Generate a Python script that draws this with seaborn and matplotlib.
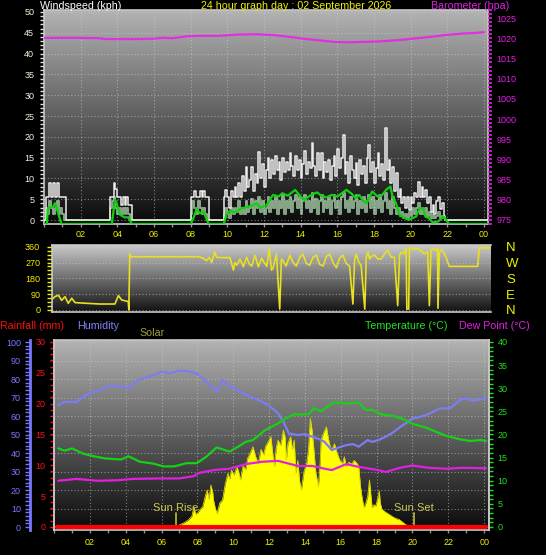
import numpy as np
import matplotlib
matplotlib.use("Agg")
import matplotlib.pyplot as plt
import seaborn as sns
from matplotlib.ticker import MultipleLocator

# ---------------- data ----------------
hour_ticks = [2, 4, 6, 8, 10, 12, 14, 16, 18, 20, 22, 24]
hour_labels = ["02", "04", "06", "08", "10", "12", "14", "16", "18", "20", "22", "00"]

# barometer (hPa)
baro_t = [0.0, 1.0, 2.0, 3.0, 3.4, 4.0, 5.0, 6.0, 6.5, 7.0, 7.8, 8.5, 9.5, 10.5, 11.6,
          12.5, 13.3, 14.3, 15.0, 15.8, 16.5, 17.4, 18.2, 18.9, 19.5, 20.1, 21.0, 21.9,
          22.9, 23.5, 24.0]
baro_v = [1020.1, 1020.1, 1020.1, 1020.0, 1019.8, 1019.8, 1019.8, 1019.9, 1020.1, 1020.0,
          1020.5, 1020.6, 1020.6, 1020.9, 1021.0, 1020.8, 1020.4, 1019.8, 1019.5, 1019.1,
          1019.0, 1019.1, 1019.2, 1019.4, 1019.6, 1019.9, 1020.3, 1020.8, 1021.2, 1021.3,
          1021.5]

# wind gust / speed (kph), 6-minute samples in windy spells
wind_step = 0.1
wind_starts = [0.1, 3.6, 8.0, 9.8]
wind_end = 24.2
gust_a = [5.5, 5.5, 9.0, 5.5, 9.0, 5.5, 9.0, 5.5, 5.5, 5.5, 5.5, 0.0]
gust_b = [5.5, 5.5, 9.0, 7.5, 5.5, 5.5, 3.5, 5.5, 3.5, 5.5, 3.5, 3.5, 0.0]
gust_c = [5.5, 5.5, 7.0, 5.5, 5.5, 7.0, 5.5, 7.0, 5.5, 5.5, 0.0]
gust_d = [5.5, 7.2, 5.5, 3.0, 7.0, 5.5, 8.0, 5.5, 9.0, 5.5,
          10.5, 7.0, 12.8, 8.0, 9.5, 12.8, 7.0, 11.0, 9.0, 16.4,
          10.0, 13.5, 8.0, 12.0, 15.0, 10.0, 14.5, 11.0, 15.5, 12.0,
          14.0, 9.5, 15.0, 11.5, 14.0, 12.0, 16.0, 13.0, 10.5, 15.5,
          12.0, 14.5, 10.0, 13.5, 16.5, 11.0, 14.0, 12.5, 18.5, 13.0,
          10.5, 16.0, 12.0, 16.1, 10.0, 14.0, 11.5, 14.5, 9.5, 13.0,
          15.5, 10.5, 17.0, 12.5, 15.0, 20.4, 11.0, 14.0, 9.0, 15.5,
          12.0, 10.0, 13.7, 8.5, 14.5, 11.0, 13.0, 9.0, 15.0, 18.0,
          11.5, 14.0, 9.0, 12.5, 16.0, 10.5, 13.5, 9.5, 22.0, 12.0,
          14.5, 9.0, 12.8, 7.0, 11.3, 5.5, 7.5, 4.0, 5.5, 3.0,
          5.5, 2.5, 5.5, 4.0, 6.5, 5.5, 9.2, 5.5, 8.0, 5.5,
          7.2, 4.0, 5.5, 2.0, 3.5, 1.5, 4.5, 5.6, 2.6, 4.0,
          1.0, 0.0, 0.0]
speed_a = [3.0, 1.5, 4.5, 3.0, 1.5, 3.0, 4.5, 1.5, 3.0, 1.5, 0.0, 0.0]
speed_b = [3.0, 4.5, 5.5, 3.0, 1.5, 3.0, 1.5, 3.0, 1.5, 3.0, 1.5, 0.0, 0.0]
speed_c = [1.5, 4.5, 3.0, 1.5, 4.5, 3.0, 1.5, 3.0, 1.5, 0.0, 0.0]
speed_d = [1.5, 3.0, 1.5, 0.5, 3.0, 1.5, 3.0, 2.0, 4.5, 1.5,
           3.0, 1.5, 4.5, 2.0, 3.0, 5.0, 1.5, 4.5, 3.0, 5.5,
           2.0, 4.5, 1.5, 3.0, 5.5, 2.0, 4.5, 3.0, 5.5, 1.5,
           4.5, 3.0, 6.0, 1.5, 4.5, 3.0, 5.5, 2.0, 4.5, 6.0,
           3.0, 5.5, 1.5, 4.5, 6.0, 3.0, 4.5, 2.0, 6.5, 3.0,
           5.0, 1.5, 4.5, 6.0, 2.0, 4.5, 3.0, 5.5, 1.5, 4.5,
           6.0, 3.0, 4.5, 1.5, 5.5, 6.5, 3.0, 4.5, 2.0, 5.5,
           3.0, 4.5, 6.0, 1.5, 4.5, 3.0, 5.5, 2.0, 4.5, 6.0,
           3.0, 5.5, 1.5, 4.5, 3.0, 6.0, 2.0, 4.5, 6.5, 3.0,
           4.5, 1.5, 5.5, 3.0, 1.5, 3.0, 1.0, 2.0, 0.5, 1.5,
           0.5, 2.0, 1.0, 3.0, 1.5, 3.0, 4.0, 1.5, 3.0, 1.5,
           3.0, 1.0, 2.0, 0.5, 1.5, 0.5, 1.0, 2.0, 0.5, 1.0,
           0.5, 0.0, 0.0]

# average wind (kph)
avg_t = [0.0, 0.15, 0.22, 0.5, 0.6, 0.7, 0.88, 0.95, 3.7, 3.87,
         3.96, 4.15, 4.4, 4.6, 4.8, 8.0, 8.15, 8.33, 8.5, 8.7,
         8.9, 9.0, 9.8, 9.96, 10.15, 10.4, 10.7, 11.06, 11.4, 11.6,
         11.8, 12.15, 12.3, 12.5, 12.8, 13.0, 13.3, 13.7, 14.0, 14.2,
         14.5, 14.9, 15.1, 15.4, 15.7, 16.0, 16.5, 16.8, 17.0, 17.2,
         17.4, 17.6, 17.9, 18.2, 18.45, 18.7, 18.9, 19.0, 19.2, 19.4,
         19.7, 19.9, 20.3, 20.5, 20.7, 20.8, 21.0, 21.2, 21.5, 21.8,
         22.1, 24.2]
avg_v = [0.0, 0.0, 3.9, 4.1, 5.0, 3.7, 1.0, 0.0, 0.0, 5.8,
         5.0, 2.2, 1.6, 1.6, 0.0, 0.0, 1.4, 3.6, 2.6, 3.0,
         0.8, 0.0, 0.0, 2.3, 3.2, 2.8, 3.6, 4.1, 4.5, 5.0,
         3.9, 4.5, 5.8, 7.0, 6.6, 7.4, 6.8, 8.2, 6.6, 5.8,
         6.8, 7.6, 6.9, 6.4, 7.0, 6.6, 8.2, 7.2, 6.2, 7.0,
         5.6, 5.0, 7.8, 6.6, 7.0, 8.4, 9.0, 6.8, 5.0, 2.2,
         1.4, 1.0, 1.8, 3.9, 3.6, 1.8, 1.4, 0.4, 0.6, 1.8,
         0.0, 0.0]

# wind direction (degrees)
dir_t = [0.0, 0.16, 0.35, 0.53, 0.71, 0.89, 1.08, 1.26, 1.9, 2.62,
         3.44, 3.63, 3.81, 4.17, 4.2, 4.25, 4.3, 8.0, 8.1, 8.26,
         8.45, 8.6, 8.73, 8.9, 9.0, 9.19, 9.73, 9.92, 10.0, 10.1,
         10.28, 10.46, 10.64, 10.78, 10.92, 11.1, 11.28, 11.46, 11.6, 11.74,
         11.88, 12.0, 12.08, 12.27, 12.45, 12.54, 12.63, 12.8, 13.0, 13.18,
         13.36, 13.54, 13.72, 13.9, 14.09, 14.27, 14.45, 14.63, 14.82, 15.0,
         15.18, 15.36, 15.55, 15.72, 15.9, 16.09, 16.27, 16.45, 16.54, 16.63,
         16.78, 16.9, 17.1, 17.18, 17.27, 17.36, 17.45, 17.63, 17.82, 18.0,
         18.18, 18.36, 18.54, 18.72, 18.9, 19.0, 19.1, 19.24, 19.36, 19.4,
         19.5, 19.54, 19.63, 19.8, 20.0, 20.18, 20.36, 20.54, 20.63, 20.72,
         20.8, 21.0, 21.08, 21.1, 21.18, 21.27, 21.45, 21.54, 21.72, 23.27,
         23.36, 24.0]
dir_v = [60, 76, 84, 55, 76, 38, 67, 42, 38, 34,
         34, 82, 57, 48, 0, 320, 303, 303, 300, 295,
         280, 300, 270, 330, 300, 298, 298, 227, 270, 255,
         290, 246, 300, 262, 250, 312, 246, 295, 270, 248,
         350, 227, 237, 318, 5, 290, 280, 250, 312, 270,
         250, 300, 318, 265, 255, 300, 312, 260, 250, 305,
         318, 270, 240, 295, 312, 265, 250, 34, 280, 318,
         270, 255, 5, 300, 330, 290, 305, 312, 290, 290,
         320, 340, 300, 300, 25, 310, 330, 320, 350, 5,
         5, 355, 355, 345, 350, 335, 320, 330, 25, 340,
         350, 340, 350, 10, 330, 345, 320, 300, 248, 248,
         354, 354]
dir_ticks = [0, 90, 180, 270, 360]
compass_labels = ["N", "E", "S", "W", "N"]

# humidity (%)
hum_t = [0.24, 0.6, 1.25, 1.8, 2.4, 2.9, 3.5, 4.15, 4.8, 5.35, 6.0, 6.5, 7.0, 7.5, 7.96,
         8.5, 9.07, 9.4, 9.8, 10.2, 10.7, 11.2, 11.8, 12.2, 12.5, 12.8, 13.1, 13.6, 14.0,
         14.4, 14.8, 15.1, 15.5, 15.9, 16.3, 16.7, 17.0, 17.5, 17.75, 18.1, 18.5, 18.9,
         19.3, 19.7, 20.0, 20.4, 20.75, 21.1, 21.5, 22.1, 22.7, 23.0, 23.4, 23.8, 24.1]
hum_v = [66.0, 67.7, 67.5, 71.5, 73.3, 75.7, 76.4, 75.0, 79.9, 81.4, 84.0, 83.0, 84.6, 84.2,
         83.0, 78.6, 73.0, 79.5, 75.9, 74.5, 71.4, 69.5, 66.8, 64.0, 61.4, 57.0, 50.6, 49.7,
         50.3, 48.8, 47.5, 46.0, 41.6, 43.0, 44.3, 44.8, 43.4, 47.0, 46.0, 47.0, 48.8, 51.0,
         54.0, 56.5, 58.7, 59.5, 60.5, 62.0, 64.1, 64.1, 69.0, 69.5, 68.3, 69.0, 69.6]

# temperature (C)
temp_t = [0.24, 0.6, 1.0, 1.6, 2.2, 2.9, 3.75, 4.15, 4.8, 5.55, 6.1, 6.7, 7.0, 7.4, 7.96,
          8.5, 9.07, 9.8, 10.2, 10.7, 11.1, 11.8, 12.5, 12.9, 13.4, 13.8, 14.2, 14.5, 14.9,
          15.5, 15.9, 16.3, 17.0, 17.4, 17.8, 18.2, 18.95, 19.5, 20.0, 20.75, 21.3, 21.9,
          22.6, 23.2, 23.8, 24.1]
temp_v = [17.0, 16.5, 17.0, 15.9, 15.3, 14.8, 14.6, 15.3, 14.1, 13.7, 13.1, 13.1, 13.4, 13.8,
          13.8, 15.2, 17.2, 16.3, 17.2, 18.4, 18.8, 21.0, 22.4, 23.4, 24.4, 24.3, 24.4, 25.7,
          25.0, 26.7, 26.9, 26.7, 26.9, 25.3, 25.3, 24.4, 24.0, 23.3, 22.3, 21.5, 20.6, 19.7,
          19.0, 18.6, 18.8, 18.6]

# dew point (C)
dew_t = [0.24, 1.25, 2.4, 3.5, 4.4, 5.9, 7.0, 7.8, 8.1, 8.9, 9.8, 10.7, 11.6, 12.5, 13.1,
         13.6, 14.4, 15.1, 15.5, 16.3, 17.0, 18.1, 18.5, 19.3, 20.0, 20.9, 21.9, 22.8, 24.1]
dew_v = [10.0, 10.4, 10.0, 10.1, 10.4, 10.5, 10.5, 11.0, 11.7, 12.3, 12.6, 13.6, 14.1, 14.3,
         13.7, 13.2, 13.2, 12.6, 12.3, 13.6, 13.0, 12.3, 11.9, 12.8, 13.3, 12.8, 12.6, 12.8,
         12.7]

# solar (W/m2)
solar_t = [0.0, 6.75, 7.0, 7.3, 7.5, 7.7, 7.8, 7.9, 8.0, 8.15,
           8.3, 8.45, 8.55, 8.65, 8.75, 8.85, 8.9, 9.0, 9.1, 9.25,
           9.4, 9.55, 9.7, 9.8, 9.9, 10.05, 10.2, 10.3, 10.4, 10.55,
           10.7, 10.8, 10.95, 11.1, 11.25, 11.4, 11.55, 11.7, 11.8, 11.95,
           12.1, 12.2, 12.3, 12.4, 12.5, 12.65, 12.8, 12.9, 12.96, 13.05,
           13.2, 13.3, 13.4, 13.5, 13.6, 13.7, 13.8, 13.95, 14.1, 14.2,
           14.3, 14.4, 14.5, 14.6, 14.75, 14.85, 14.9, 15.05, 15.2, 15.3,
           15.4, 15.5, 15.65, 15.8, 15.95, 16.1, 16.2, 16.3, 16.45, 16.6,
           16.75, 16.9, 17.0, 17.1, 17.2, 17.3, 17.4, 17.5, 17.6, 17.7,
           17.75, 17.85, 17.95, 18.05, 18.15, 18.2, 18.3, 18.5, 18.7, 18.9,
           19.1, 19.25, 19.4, 19.6, 19.9, 24.27]
solar_v = [0, 0, 11, 25, 38, 60, 110, 70, 74, 95,
           110, 170, 200, 150, 227, 190, 146, 100, 74, 130,
           146, 230, 290, 260, 308, 280, 326, 300, 254, 330,
           310, 371, 400, 434, 380, 344, 420, 390, 434, 460,
           488, 400, 326, 430, 470, 440, 524, 480, 362, 450,
           488, 420, 470, 290, 360, 250, 200, 300, 344, 420,
           587, 520, 416, 300, 218, 350, 470, 510, 542, 480,
           440, 416, 450, 398, 360, 344, 380, 326, 350, 340,
           360, 344, 330, 218, 150, 104, 130, 164, 254, 150,
           104, 120, 113, 150, 195, 130, 95, 80, 68, 55,
           45, 41, 30, 14, 0, 0]

# rainfall (mm)
rain_t = [0.15, 24.1]
rain_v = [0.0, 0.0]

sunrise = 6.79
sunset = 20.07


def seg_series(starts, segs, step, end):
    t, v = [0.0], [0.0]
    for s, vals in zip(starts, segs):
        t += list(s + step * np.arange(len(vals)))
        v += list(vals)
    t.append(end)
    v.append(0.0)
    return np.array(t), np.array(v)


gust_t, gust_v = seg_series(wind_starts, [gust_a, gust_b, gust_c, gust_d], wind_step, wind_end)
speed_t, speed_v = seg_series(wind_starts, [speed_a, speed_b, speed_c, speed_d], wind_step, wind_end)

# ---------------- style ----------------
sns.set_style("dark")
plt.rcParams['font.family'] = ['Liberation Sans Narrow', 'Liberation Sans', 'DejaVu Sans']
plt.rcParams['axes.linewidth'] = 1.2

W, H = 546, 555
PT = 0.72  # points per pixel at 100 dpi
fig = plt.figure(figsize=(W / 100, H / 100), dpi=100, facecolor='black')


def rect(l, t, r, b):
    return [l / W, 1 - b / H, (r - l) / W, (b - t) / H]


def gradient_bg(ax, top, bottom, xlim, ylim):
    g = np.linspace(top, bottom, 256).reshape(-1, 1)
    ax.imshow(g, cmap='gray', vmin=0, vmax=1, aspect='auto', origin='upper',
              extent=[xlim[0], xlim[1], ylim[0], ylim[1]], zorder=0,
              interpolation='bilinear')
    ax.set_xlim(xlim)
    ax.set_ylim(ylim)


BORDER = '#c8c8c8'
GRID = dict(color='#d0d0d0', linestyle=(0, (1, 2)), linewidth=0.8, alpha=0.55)
YEL = '#f0f000'
TICKFS = 6.5


def style_spines(ax, show=('left', 'bottom', 'right', 'top')):
    for k, s in ax.spines.items():
        s.set_visible(k in show)
        s.set_color(BORDER)


def hide_spines(ax):
    for s in ax.spines.values():
        s.set_visible(False)


# ---------------- top panel: wind + barometer ----------------
ax1 = fig.add_axes(rect(44, 10, 488, 224))
ax1.set_facecolor('black')
x1lim = (0, 24.22)
y1lim = (-0.96, 50.48)
gradient_bg(ax1, 0.70, 0.04, x1lim, y1lim)
sns.lineplot(x=gust_t, y=gust_v, ax=ax1, color='#ececec', lw=1.1,
             drawstyle='steps-post', estimator=None, zorder=3)
sns.lineplot(x=speed_t, y=speed_v, ax=ax1, color='#c8f5c8', alpha=0.65, lw=1.4,
             drawstyle='steps-post', estimator=None, zorder=4)
ax1.set_xlim(x1lim)
ax1.set_ylim(y1lim)
ax1.yaxis.set_major_locator(MultipleLocator(5))
ax1.yaxis.set_minor_locator(MultipleLocator(1))
ax1.set_xticks(hour_ticks)
ax1.set_xticklabels(hour_labels)
ax1.xaxis.set_minor_locator(MultipleLocator(1))
ax1.grid(True, which='major', **GRID)
ax1.tick_params(axis='y', which='both', colors='#e0e0e0', length=3, width=1,
                labelsize=TICKFS, pad=4, left=True)
ax1.tick_params(axis='y', labelcolor='#f4f4dc')
ax1.tick_params(axis='x', which='both', colors='#909090', length=2.5, width=1,
                labelsize=TICKFS, pad=2, bottom=True)
ax1.tick_params(axis='x', labelcolor=YEL)
style_spines(ax1)
ax1.set_xlabel('')
ax1.set_ylabel('')

ax1a = ax1.twinx()
sns.lineplot(x=avg_t, y=avg_v, ax=ax1a, color='#10d010', lw=1.6, estimator=None, zorder=5)
ax1a.set_ylim(0, 51.44)
ax1a.set_yticks([])
hide_spines(ax1a)
ax1a.set_ylabel('')

ax1b = ax1.twinx()
sns.lineplot(x=baro_t, y=baro_v, ax=ax1b, color='#e030e0', lw=1.6, estimator=None, zorder=6)
ax1b.set_ylim(974.0, 1027.0)
ax1b.yaxis.set_major_locator(MultipleLocator(5))
ax1b.yaxis.set_minor_locator(MultipleLocator(1))
ax1b.tick_params(axis='y', which='both', colors='#e020e0', length=3, width=1.2,
                 labelsize=TICKFS, pad=3, right=True)
hide_spines(ax1b)
ax1b.set_ylabel('')
ax1.set_xlim(x1lim)

# ---------------- middle panel: wind direction ----------------
ax2 = fig.add_axes(rect(52, 245, 491, 312))
ax2.set_facecolor('black')
x2lim = (0, 24)
y2lim = (-11.4, 369.7)
gradient_bg(ax2, 0.80, 0.07, x2lim, y2lim)
sns.lineplot(x=dir_t, y=dir_v, ax=ax2, color='#e8e020', lw=1.2, estimator=None, sort=False)
ax2.set_xlim(x2lim)
ax2.set_ylim(y2lim)
ax2.set_yticks(dir_ticks)
ax2.yaxis.set_minor_locator(MultipleLocator(22.5))
ax2.set_xticks(hour_ticks)
ax2.set_xticklabels([])
ax2.tick_params(axis='x', length=0)
ax2.tick_params(axis='y', which='both', colors=YEL, length=3.5, width=1,
                labelsize=TICKFS, pad=5, left=True)
ax2.grid(True, axis='y', which='major', **GRID)
style_spines(ax2)
ax2.spines['right'].set_visible(False)
ax2.set_xlabel('')
ax2.set_ylabel('')

ax2b = ax2.twinx()
ax2b.set_ylim(y2lim)
ax2b.set_yticks(dir_ticks)
ax2b.set_yticklabels(compass_labels)
ax2b.tick_params(axis='y', length=0, labelcolor=YEL, labelsize=9.5, pad=11)
hide_spines(ax2b)

# ---------------- bottom panel: rain/humidity/solar/temp/dew ----------------
axb = fig.add_axes(rect(54, 340, 489, 530))
axb.set_facecolor('black')
xblim = (0, 24.27)
hlim = (-1.62, 101.1)
slim = (hlim[0] * 10, hlim[1] * 10)
gradient_bg(axb, 0.70, 0.04, xblim, slim)
axb.fill_between(solar_t, solar_v, 0, color='#ffff00', lw=0, zorder=2)
sns.lineplot(x=solar_t, y=solar_v, ax=axb, color='#d8d800', lw=0.6, estimator=None, zorder=3)
for tsun, lab in ((sunrise, 'Sun Rise'), (sunset, 'Sun Set')):
    axb.axvline(tsun, ymin=0.016, ymax=0.092, color='#b0b030', lw=1.3, zorder=4)
    axb.annotate(lab, xy=(tsun, 0), xytext=(0, 14), textcoords='offset points',
                 ha='center', va='center', color='#c8c850', fontsize=8, zorder=4)
axb.set_xlim(xblim)
axb.set_ylim(slim)
axb.set_yticks(np.arange(0, 1001, 100))
axb.set_xticks(hour_ticks)
axb.set_xticklabels(hour_labels)
axb.xaxis.set_minor_locator(MultipleLocator(1))
axb.grid(True, which='major', **GRID)
axb.tick_params(axis='y', left=False, labelleft=False, right=False, labelright=False)
axb.tick_params(axis='x', which='both', colors='#909090', length=2.5, width=1,
                labelsize=TICKFS, pad=3, bottom=True)
axb.tick_params(axis='x', labelcolor=YEL)
style_spines(axb)
axb.set_xlabel('')
axb.set_ylabel('')

# humidity (offset blue axis)
HUM = '#7878ff'
axh = axb.twinx()
sns.lineplot(x=hum_t, y=hum_v, ax=axh, color='#7c7cf4', lw=1.6, estimator=None, zorder=5)
axh.set_ylim(hlim)
axh.yaxis.set_ticks_position('left')
axh.yaxis.set_label_position('left')
hide_spines(axh)
axh.spines['left'].set_visible(True)
axh.spines['left'].set_position(('outward', 24 * PT))
axh.spines['left'].set_color(HUM)
axh.spines['left'].set_linewidth(2)
axh.yaxis.set_major_locator(MultipleLocator(10))
axh.yaxis.set_minor_locator(MultipleLocator(2))
axh.tick_params(axis='y', which='both', colors=HUM, length=3.5, width=1,
                labelsize=TICKFS, pad=3, left=True)
axh.set_ylabel('')

# temperature / dew point (right green axis)
TEMP = '#20e020'
axt = axb.twinx()
sns.lineplot(x=temp_t, y=temp_v, ax=axt, color='#18d018', lw=1.6, estimator=None, zorder=6)
sns.lineplot(x=dew_t, y=dew_v, ax=axt, color='#e020e0', lw=1.6, estimator=None, zorder=6)
axt.set_ylim(-0.65, 40.43)
axt.yaxis.set_major_locator(MultipleLocator(5))
axt.yaxis.set_minor_locator(MultipleLocator(1))
axt.tick_params(axis='y', which='both', colors=TEMP, length=3, width=1,
                labelsize=TICKFS, pad=3, right=True)
hide_spines(axt)
axt.spines['right'].set_visible(True)
axt.spines['right'].set_color(BORDER)
axt.set_ylabel('')

# rainfall (left red axis)
RAIN = '#ff1010'
axr = axb.twinx()
sns.lineplot(x=rain_t, y=rain_v, ax=axr, color='#ff0000', lw=3, estimator=None, zorder=7)
axr.set_ylim(-0.49, 30.32)
axr.yaxis.set_ticks_position('left')
axr.yaxis.set_label_position('left')
hide_spines(axr)
axr.spines['left'].set_visible(True)
axr.spines['left'].set_color(BORDER)
axr.yaxis.set_major_locator(MultipleLocator(5))
axr.yaxis.set_minor_locator(MultipleLocator(1))
axr.tick_params(axis='y', which='both', colors=RAIN, length=3, width=1,
                labelsize=TICKFS, pad=3, left=True)
axr.set_ylabel('')
axb.set_xlim(xblim)

# ---------------- titles ----------------
def ftext(x, y, s, color, ha='left', fs=7.7):
    fig.text(x / W, 1 - y / H, s, color=color, ha=ha, va='center', fontsize=fs)


ftext(40, 6, 'Windspeed (kph)', 'white')
ftext(296, 6, '24 hour graph day : 02 September 2026', YEL, ha='center')
ftext(470, 6, 'Barometer (hpa)', '#e020e0', ha='center')
ftext(0, 326, 'Rainfall (mm)', '#ff1010')
ftext(77, 326, 'Humidity', '#8080ff')
ftext(139, 333, 'Solar', '#a0a040')
ftext(365, 326, 'Temperature (\u00b0C)', '#20e020')
ftext(459, 326, 'Dew Point (\u00b0C)', '#e020e0')

fig.savefig('out.png', dpi=100, facecolor='black')
